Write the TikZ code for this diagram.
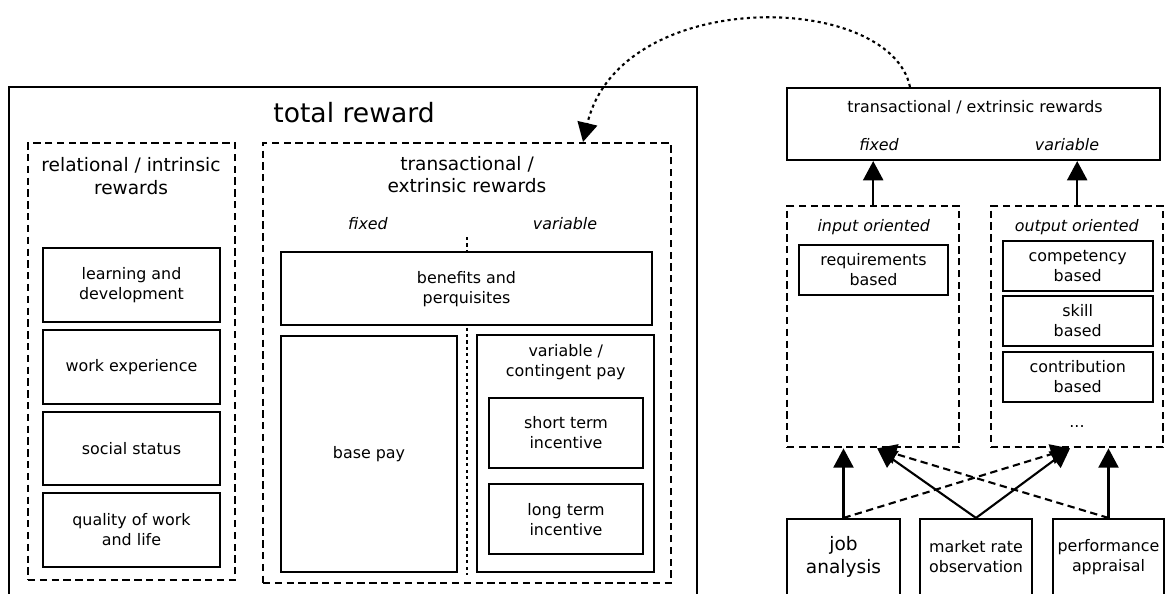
\documentclass[tikz,border=0pt]{standalone}
\usepackage{fontspec}
\setmainfont{DejaVu Sans}
\usetikzlibrary{arrows.meta}

\newcommand{\txtsize}{\fontsize{11.3}{14.2}\selectfont}
\newcommand{\hdsize}{\fontsize{13.2}{16}\selectfont}
\newcommand{\bigsize}{\fontsize{18.9}{22}\selectfont}

\begin{document}
\begin{tikzpicture}[
    font=\txtsize,
    solidbox/.style={draw, rectangle, line width=1.5pt, align=center, inner sep=2pt},
    dashbox/.style={draw, rectangle, line width=1.5pt, dash pattern=on 5.2pt off 3.2pt},
    dotline/.style={line width=1.5pt, dash pattern=on 2.2pt off 2.4pt},
    arr/.style={line width=1.5pt, -{Triangle[length=4.8mm, width=5mm]}},
    dasharr/.style={arr, dash pattern=on 5.2pt off 3.2pt},
]
    \useasboundingbox (0,0) rectangle (29.125,14.825);
    \clip (0,0) rectangle (29.125,14.825);

    % Total reward
    \node[solidbox, minimum width=17.2cm, minimum height=13.2cm] (total) at (8.825, 6.05) {};
    \node[font=\bigsize] (totaltitle) at (8.85, 12.0) {total reward};

    % Relational / intrinsic
    \node[dashbox, minimum width=5.175cm, minimum height=10.925cm] (rel) at (3.2875, 5.7875) {};
    \node[font=\hdsize, align=center] (reltitle) at (3.275, 10.425) {relational / intrinsic\\rewards};
    \node[solidbox, minimum width=4.425cm, minimum height=1.83cm] (learn) at (3.2875, 7.7) {learning and\\development};
    \node[solidbox, minimum width=4.425cm, minimum height=1.83cm] (work) at (3.2875, 5.65) {work experience};
    \node[solidbox, minimum width=4.425cm, minimum height=1.83cm] (social) at (3.2875, 3.6125) {social status};
    \node[solidbox, minimum width=4.425cm, minimum height=1.83cm] (quality) at (3.2875, 1.575) {quality of work\\and life};

    % Transactional / extrinsic
    \node[dashbox, minimum width=10.2cm, minimum height=11.0cm] (trans) at (11.675, 5.75) {};
    \node[font=\hdsize, align=center] (transtitle) at (11.675, 10.4625) {transactional /\\extrinsic rewards};
    \node[font=\txtsize\itshape] (fixedl) at (9.2, 9.225) {fixed};
    \node[font=\txtsize\itshape] (variablel) at (14.125, 9.225) {variable};
    \coordinate (septop) at (11.675, 8.9);
    \coordinate (sepbot) at (11.675, 0.45);
    \draw[dotline] (septop) -- (sepbot);
    \node[solidbox, fill=white, minimum width=9.29cm, minimum height=1.833cm] (benefits) at (11.6625, 7.6075) {benefits and\\perquisites};
    \node[solidbox, minimum width=4.415cm, minimum height=5.9075cm] (base) at (9.225, 3.47) {base pay};
    \node[solidbox, minimum width=4.425cm, minimum height=5.91cm] (varpay) at (14.1375, 3.4875) {};
    \node[align=center] (varpaytitle) at (14.145, 5.7825) {variable /\\contingent pay};
    \node[solidbox, minimum width=3.835cm, minimum height=1.75cm] (shortterm) at (14.15, 4.0075) {short term\\incentive};
    \node[solidbox, minimum width=3.835cm, minimum height=1.75cm] (longterm) at (14.15, 1.8425) {long term\\incentive};

    % Right: transactional rewards top box
    \node[solidbox, minimum width=9.325cm, minimum height=1.8cm] (top) at (24.3375, 11.725) {};
    \node (toptitle) at (24.375, 12.15) {transactional / extrinsic rewards};
    \node[font=\txtsize\itshape] (fixedr) at (21.975, 11.2) {fixed};
    \node[font=\txtsize\itshape] (variabler) at (26.675, 11.2) {variable};

    % Input / output oriented
    \node[dashbox, minimum width=4.3075cm, minimum height=6.0325cm] (input) at (21.83, 6.6575) {};
    \node[font=\txtsize\itshape] (inputtitle) at (21.845, 9.1575) {input oriented};
    \node[solidbox, minimum width=3.74cm, minimum height=1.25cm] (req) at (21.8375, 8.075) {requirements\\based};

    \node[dashbox, minimum width=4.3075cm, minimum height=6.0325cm] (output) at (26.93, 6.6575) {};
    \node[font=\txtsize\itshape] (outputtitle) at (26.92, 9.1575) {output oriented};
    \node[solidbox, minimum width=3.75cm, minimum height=1.25cm] (comp) at (26.9425, 8.1825) {competency\\based};
    \node[solidbox, minimum width=3.75cm, minimum height=1.25cm] (skill) at (26.9425, 6.8) {skill\\based};
    \node[solidbox, minimum width=3.75cm, minimum height=1.25cm] (contrib) at (26.9425, 5.4075) {contribution\\based};
    \node (moredots) at (26.925, 4.1575) {...};

    % Sources
    \node[solidbox, font=\hdsize, minimum width=2.825cm, minimum height=1.9cm] (job) at (21.0875, 0.9) {job\\analysis};
    \node[solidbox, minimum width=2.8cm, minimum height=1.9cm] (market) at (24.4, 0.9) {market rate\\observation};
    \node[solidbox, minimum width=2.775cm, minimum height=1.9cm] (perf) at (27.7125, 0.9) {performance\\appraisal};

    % Connections
    \draw[arr] (input.north) -- (input.north |- top.south);
    \draw[arr] (output.north) -- (output.north |- top.south);

    \draw[arr] (job.north) -- (job.north |- input.south);
    \draw[arr] (perf.north) -- (perf.north |- output.south);
    \draw[arr] (market.north) -- ([xshift=0.1cm]input.south);
    \draw[arr] (market.north) -- ([xshift=-0.18cm]output.south);
    \draw[dasharr] (job.north) -- ([xshift=-0.18cm]output.south);
    \draw[dasharr] (perf.north) -- ([xshift=0.1cm]input.south);

    \draw[dotline, -{Triangle[length=4.8mm, width=5mm]}] ([xshift=-1.5875cm]top.north)
        .. controls +(-0.5, 2.4) and +(0.925, 3.9) .. ([xshift=2.9cm]trans.north);
\end{tikzpicture}
\end{document}
